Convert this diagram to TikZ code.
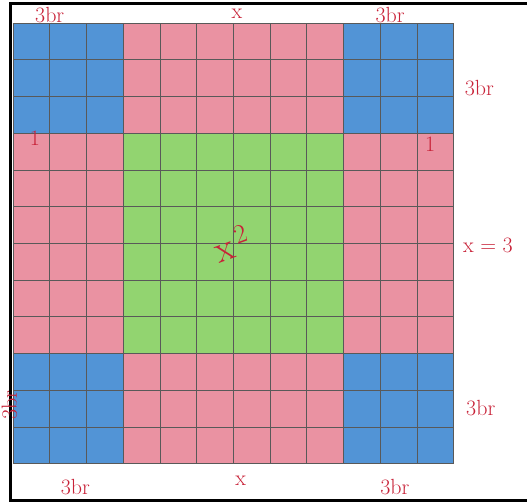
\documentclass[tikz,border=0pt]{standalone}
\usepackage{tikz}
\usetikzlibrary{positioning}
\definecolor{crayonblue}{RGB}{82,148,214}
\definecolor{crayonred}{RGB}{234,146,162}
\definecolor{crayongreen}{RGB}{146,212,112}
\definecolor{inkred}{RGB}{200,34,56}
\tikzset{
    bluepiece/.style = {
        fill=crayonblue
    },
    redpiece/.style = {
        fill=crayonred
    },
    greenpiece/.style = {
        fill=crayongreen
    },
    gridline/.style = {
        draw=black!65,
        line width=0.45pt
    },
    frame/.style = {
        draw=black,
        line width=2.4pt
    },
    ink/.style = {
        text=inkred,
        inner sep=0pt,
        font=\fontsize{17}{20}\selectfont
    },
}

\begin{document}
\begin{tikzpicture}
        \useasboundingbox (-0.354,-1.079) rectangle (14.0,12.627);

        % corner squares
        \path[bluepiece] (0,9) rectangle (3,12);
        \path[bluepiece] (9,9) rectangle (12,12);
        \path[bluepiece] (0,0) rectangle (3,3);
        \path[bluepiece] (9,0) rectangle (12,3);

        % strips
        \path[redpiece] (3,9) rectangle (9,12);
        \path[redpiece] (3,0) rectangle (9,3);
        \path[redpiece] (0,3) rectangle (3,9);
        \path[redpiece] (9,3) rectangle (12,9);

        % middle square
        \path[greenpiece] (3,3) rectangle (9,9);

        \draw[gridline] (0,0) grid (12,12);

        \draw[frame] (14.2,12.52) -- (-0.08,12.52) -- (-0.08,-1.0) -- (14.2,-1.0);

        \node[ink] (tl) at (1.0,12.22) {3br};
        \node[ink] (tx) at (6.1,12.24) {x};
        \node[ink] (tr) at (10.27,12.22) {3br};
        \node[ink] (rt) at (12.7,10.23) {3br};
        \node[ink] (onel) at (0.6,8.85) {1};
        \node[ink] (oner) at (11.36,8.7) {1};
        \node[ink, anchor=west] (eq) at (12.25,5.95) {x = 3};
        \node[ink, font=\fontsize{30}{34}\selectfont, rotate=20] (sq) at (5.95,6.0) {x$^{\,2}$};
        \node[ink] (rb) at (12.74,1.51) {3br};
        \node[ink, rotate=90] (lb) at (-0.1,1.6) {3br};
        \node[ink] (bl) at (1.7,-0.64) {3br};
        \node[ink] (bx) at (6.2,-0.48) {x};
        \node[ink] (br) at (10.4,-0.64) {3br};
    \end{tikzpicture}
\end{document}
